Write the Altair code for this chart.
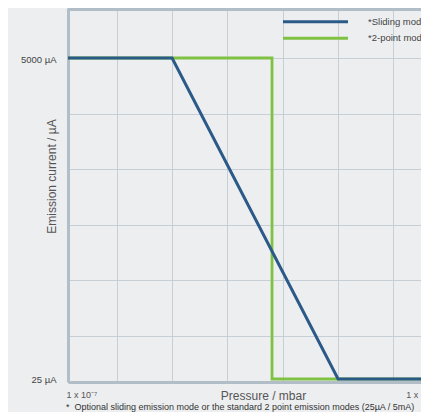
import altair as alt
import pandas as pd

# ---------------- data ----------------
series = ["*Sliding mode", "*2-point mode"]
colors = ["#2b5a89", "#7fc243"]

sliding_pressure = [1.147e-7, 1.0e-6, 3.162e-5, 2.2e-4]
sliding_current = [5000, 5000, 25, 25]
twopoint_pressure = [1.147e-7, 8.0e-6, 8.0e-6, 2.2e-4]
twopoint_current = [5000, 5000, 25, 25]

x_domain = [1.147e-7, 1.775e-4]
y_domain = [23.79, 11414]
x_grid = [3.162e-7, 1e-6, 3.162e-6, 1e-5, 3.162e-5, 1e-4]
y_grid = [5000, 2000, 800, 320, 128, 51.2]
x_tick_values = [1.147e-7, 1.35e-4]
x_tick_labels = ["1 x 10⁻⁷", "1 x 10⁻⁴"]
y_tick_values = [5000, 25]
y_tick_labels = ["5000 µA", "25 µA"]
footnote = "*\u00a0\u00a0Optional sliding emission mode or the standard 2 point emission modes (25µA / 5mA)"

# ---------------- style ----------------
W, H = 353, 374
FONT = "Liberation Sans"
border = "#b2bec7"
gridc = "#c6cfd6"


def near(v):
    return f"abs(datum.value - {v:g}) < {abs(v) * 0.01:g}"


def label_expr(vals, labels):
    parts = [f"{near(v)} ? '{l}'" for v, l in zip(vals, labels)]
    return " : ".join(parts) + " : ''"


def hide_test(vals):
    return " || ".join(near(v) for v in vals)


x_axis = alt.Axis(
    values=x_grid + x_tick_values,
    labelExpr=label_expr(x_tick_values, x_tick_labels),
    ticks=False,
    domainColor=border,
    domainWidth=3,
    gridColor={"condition": {"test": hide_test(x_tick_values), "value": "transparent"}, "value": gridc},
    gridWidth=1,
    labelAlign="left",
    labelBaseline="middle",
    labelPadding=12,
    labelOffset=-2,
    labelFontSize=9,
    labelColor="#555555",
    labelOverlap=False,
    labelFlush=False,
    labelBound=False,
    title="Pressure / mbar",
    titleFontSize=12,
    titleFontWeight="normal",
    titleColor="#555555",
    titleX=195,
    titleY=13,
    titleBaseline="middle",
    titleAlign="center",
)

y_axis = alt.Axis(
    values=y_grid + [25],
    labelExpr=label_expr(y_tick_values, y_tick_labels),
    ticks=False,
    domainColor=border,
    domainWidth=3,
    gridColor={"condition": {"test": hide_test([25]), "value": "transparent"}, "value": gridc},
    gridWidth=1,
    labelPadding=12,
    labelFontSize=9.5,
    labelColor="#444444",
    labelBaseline="middle",
    labelOffset=1,
    labelOverlap=False,
    labelFlush=False,
    labelBound=False,
    title="Emission current / µA",
    titleFontSize=12,
    titleFontWeight="normal",
    titleColor="#555555",
    titleX=-17,
    titleY=168,
    titleAngle=270,
    titleBaseline="middle",
    titleAlign="center",
)

x_enc = alt.X("pressure:Q", scale=alt.Scale(type="log", domain=x_domain, nice=False), axis=x_axis)
y_enc = alt.Y("current:Q", scale=alt.Scale(type="log", domain=y_domain, nice=False), axis=y_axis)

df_s = pd.DataFrame({"pressure": sliding_pressure, "current": sliding_current,
                     "idx": range(len(sliding_pressure)), "series": series[0]})
df_t = pd.DataFrame({"pressure": twopoint_pressure, "current": twopoint_current,
                     "idx": range(len(twopoint_pressure)), "series": series[1]})

green = alt.Chart(df_t).mark_line(color=colors[1], strokeWidth=2.8, clip=True, strokeCap="butt").encode(
    x=x_enc, y=y_enc, order="idx:Q")
blue = alt.Chart(df_s).mark_line(color=colors[0], strokeWidth=3, clip=True, strokeCap="butt").encode(
    x=x_enc, y=y_enc, order="idx:Q")
lines = alt.layer(green, blue)

# legend built from the series list
df_leg = pd.DataFrame({"series": series})
leg_y = alt.Y("series:N", scale=alt.Scale(type="point", domain=series, range=[13.7, 30.3], padding=0), axis=None)
leg_color = alt.Color("series:N", scale=alt.Scale(domain=series, range=colors), legend=None)
leg_rule = alt.Chart(df_leg).mark_rule(strokeWidth=3).encode(
    x=alt.value(215), x2=alt.value(280), y=leg_y, color=leg_color)
leg_text = alt.Chart(df_leg).mark_text(align="left", baseline="middle", fontSize=9.5, color="#444444", font=FONT).encode(
    x=alt.value(300), y=leg_y, text="series:N")

top_border = alt.Chart(pd.DataFrame({"a": [0]})).mark_rule(color=border, strokeWidth=3).encode(
    x=alt.value(0), x2=alt.value(W), y=alt.value(1.5))

foot = alt.Chart(pd.DataFrame({"t": [footnote]})).mark_text(
    align="left", baseline="middle", fontSize=9, color="#333333", font=FONT).encode(
    x=alt.value(-2), y=alt.value(398.5), text="t:N")

overlay = alt.layer(top_border, leg_rule, leg_text, foot)

chart = alt.layer(lines, overlay).resolve_scale(y="independent").properties(
    width=W,
    height=H,
    autosize=alt.AutoSizeParams(type="none"),
    padding={"left": 60, "top": 0, "right": 0, "bottom": 30},
    background="#edeef0",
).configure_view(
    fill="#f3f4f5",
    stroke=None,
).configure(
    font=FONT,
)

chart.save("out.html", embed_options={"renderer": "svg", "actions": False})
